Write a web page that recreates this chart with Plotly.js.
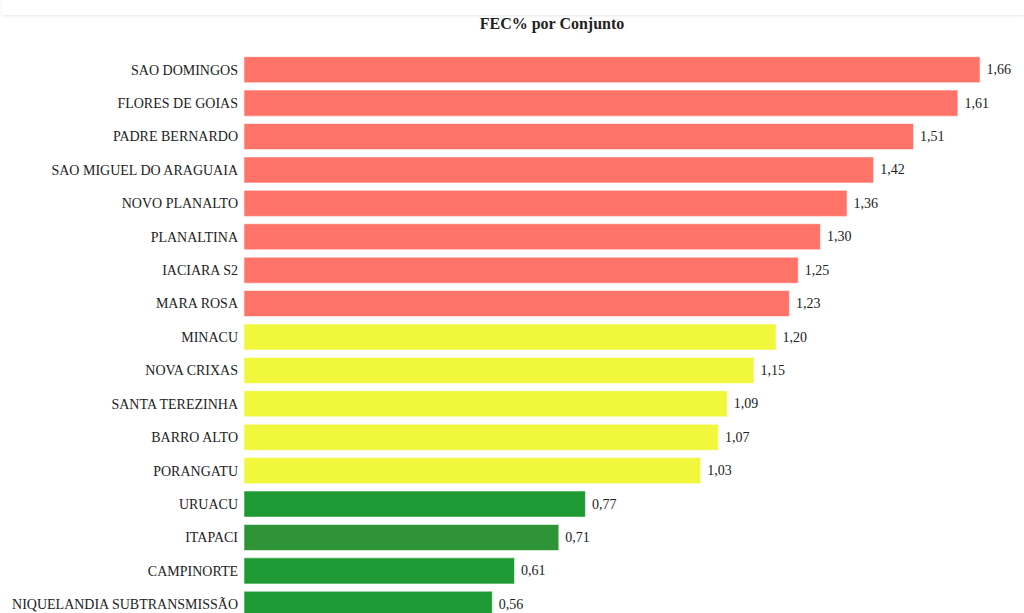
<!DOCTYPE html>
<html>
<head>
<meta charset="utf-8">
<script src="https://cdn.plot.ly/plotly-3.0.1.min.js"></script>
<style>
html,body{margin:0;padding:0;background:#fff;overflow:hidden;}
#bar{position:absolute;left:2px;right:0;top:0;height:15px;background:#fff;box-shadow:0 1px 3px rgba(0,0,0,0.10);z-index:2;}
#chart{position:absolute;left:0;top:0;width:1024px;height:640px;}
</style>
</head>
<body>
<div id="bar"></div>
<div id="chart"></div>
<script>
const categories = ["SAO DOMINGOS","FLORES DE GOIAS","PADRE BERNARDO","SAO MIGUEL DO ARAGUAIA","NOVO PLANALTO","PLANALTINA","IACIARA S2","MARA ROSA","MINACU","NOVA CRIXAS","SANTA TEREZINHA","BARRO ALTO","PORANGATU","URUACU","ITAPACI","CAMPINORTE","NIQUELANDIA SUBTRANSMISSÃO"];
const values = [1.66,1.61,1.51,1.42,1.36,1.30,1.25,1.23,1.20,1.15,1.09,1.07,1.03,0.77,0.71,0.61,0.56];
const colors = ["#FF7369","#FF7369","#FF7369","#FF7369","#FF7369","#FF7369","#FF7369","#FF7369","#F1F73D","#F1F73D","#F1F73D","#F1F73D","#F1F73D","#1F9934","#2F9436","#1F9934","#1F9934"];

const serif = '"Liberation Serif","Times New Roman",serif';
Plotly.newPlot('chart', [{
  type: 'bar',
  orientation: 'h',
  y: categories,
  x: values,
  marker: {color: colors, line: {color: 'rgba(255,255,255,0.55)', width: 1}},
  texttemplate: '\u00a0%{x:.2f}',
  textposition: 'outside',
  cliponaxis: false,
  textfont: {family: serif, size: 14, color: '#222'},
  hoverinfo: 'x+y'
}], {
  width: 1024, height: 640,
  margin: {l: 244, r: 20, t: 53.3, b: 19.3},
  paper_bgcolor: '#fff', plot_bgcolor: '#fff',
  separators: ',.',
  bargap: 0.22,
  title: {text: '<b>FEC% por Conjunto</b>', font: {family: serif, size: 16, color: '#222'},
          xref: 'container', x: 552/1024, xanchor: 'center', yref: 'container', y: 1 - 23/640, yanchor: 'middle'},
  xaxis: {range: [0, 1.714], visible: false, showgrid: false, zeroline: false},
  yaxis: {autorange: 'reversed', type: 'category', showgrid: false, zeroline: false, showline: false,
          ticks: '', ticklabelstandoff: 5, tickfont: {family: serif, size: 14, color: '#222'}},
  showlegend: false
}, {displayModeBar: false});
</script>
</body>
</html>
